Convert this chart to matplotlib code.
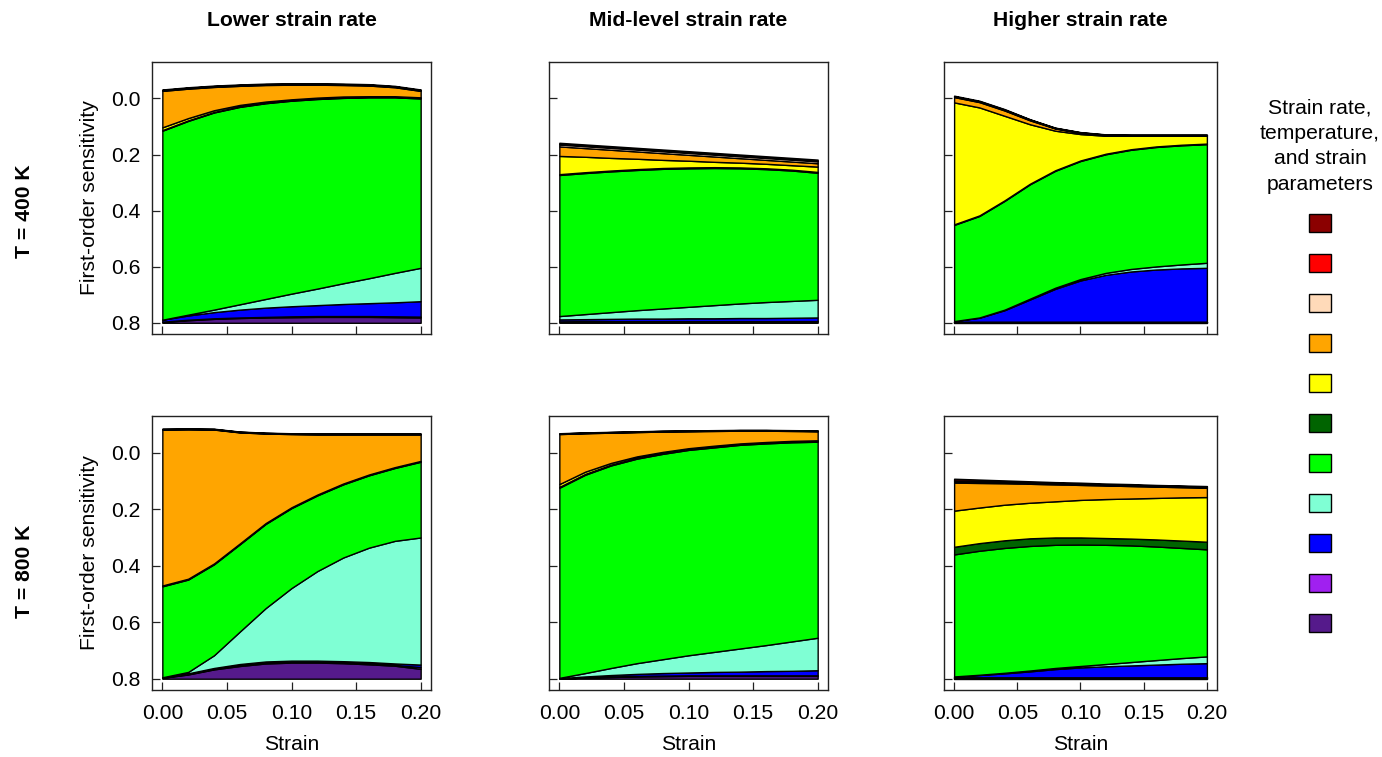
import numpy as np
import matplotlib
matplotlib.use('Agg')
import matplotlib.pyplot as plt
from matplotlib.patches import Patch

plt.rcParams['font.family'] = ['Liberation Sans', 'DejaVu Sans']

# ── data ─────────────────────────────────────────────────────────────────────
STRAIN = [0.00, 0.02, 0.04, 0.06, 0.08, 0.10, 0.12, 0.14, 0.16, 0.18, 0.20]

# legend order (top -> bottom); stacks are drawn in the reverse order
LEGEND_COLORS = ['#8B0000', '#FF0000', '#FFDAB9', '#FFA500', '#FFFF00',
                 '#006400', '#00FF00', '#7FFFD4', '#0000FF', '#A020F0', '#551A8B']
STACK_COLORS = LEGEND_COLORS[::-1]

COL_TITLES = ['Lower strain rate', 'Mid-level strain rate', 'Higher strain rate']
ROW_TITLES = ['T = 400 K', 'T = 800 K']
BASE = 0.8

# first-order sensitivity per parameter, bottom -> top of the stack
S400_LOW = [
    [0.003, 0.009, 0.014, 0.017, 0.019, 0.020, 0.021, 0.021, 0.021, 0.020, 0.019],
    [0.001, 0.002, 0.002, 0.002, 0.002, 0.003, 0.003, 0.003, 0.003, 0.003, 0.003],
    [0.007, 0.015, 0.022, 0.028, 0.033, 0.036, 0.039, 0.043, 0.046, 0.050, 0.055],
    [0.000, 0.003, 0.009, 0.019, 0.031, 0.045, 0.059, 0.074, 0.089, 0.105, 0.119],
    [0.674, 0.691, 0.703, 0.704, 0.698, 0.688, 0.676, 0.661, 0.645, 0.626, 0.604],
    [0.002, 0.002, 0.002, 0.002, 0.002, 0.002, 0.002, 0.002, 0.002, 0.002, 0.002],
    [0.010, 0.008, 0.006, 0.005, 0.004, 0.003, 0.003, 0.003, 0.002, 0.002, 0.002],
    [0.130, 0.105, 0.083, 0.068, 0.059, 0.052, 0.046, 0.041, 0.038, 0.032, 0.023],
    [0.002, 0.002, 0.002, 0.002, 0.002, 0.002, 0.002, 0.002, 0.002, 0.002, 0.002],
    [0.001, 0.001, 0.001, 0.001, 0.001, 0.001, 0.001, 0.001, 0.001, 0.001, 0.001],
    [0.002, 0.002, 0.002, 0.002, 0.002, 0.002, 0.002, 0.002, 0.002, 0.002, 0.002],
]
S400_MID = [
    [0.004, 0.005, 0.005, 0.005, 0.005, 0.005, 0.005, 0.005, 0.005, 0.005, 0.005],
    [0.001, 0.001, 0.001, 0.001, 0.001, 0.001, 0.001, 0.001, 0.001, 0.001, 0.001],
    [0.007, 0.007, 0.008, 0.009, 0.009, 0.010, 0.010, 0.011, 0.011, 0.012, 0.013],
    [0.012, 0.018, 0.024, 0.030, 0.036, 0.041, 0.047, 0.052, 0.057, 0.060, 0.063],
    [0.503, 0.503, 0.502, 0.500, 0.498, 0.494, 0.489, 0.482, 0.474, 0.465, 0.453],
    [0.003, 0.003, 0.003, 0.003, 0.003, 0.003, 0.003, 0.003, 0.003, 0.003, 0.003],
    [0.065, 0.055, 0.045, 0.037, 0.029, 0.024, 0.019, 0.017, 0.016, 0.016, 0.019],
    [0.034, 0.031, 0.029, 0.026, 0.024, 0.021, 0.019, 0.016, 0.014, 0.013, 0.012],
    [0.007, 0.007, 0.007, 0.007, 0.007, 0.007, 0.007, 0.007, 0.007, 0.007, 0.007],
    [0.002, 0.002, 0.002, 0.002, 0.002, 0.002, 0.002, 0.002, 0.002, 0.002, 0.002],
    [0.004, 0.004, 0.004, 0.004, 0.004, 0.004, 0.004, 0.004, 0.004, 0.004, 0.004],
]
S400_HIGH = [
    [0.003, 0.003, 0.003, 0.003, 0.003, 0.003, 0.003, 0.003, 0.003, 0.003, 0.003],
    [0.001, 0.001, 0.001, 0.001, 0.001, 0.001, 0.001, 0.001, 0.001, 0.001, 0.001],
    [0.002, 0.014, 0.041, 0.079, 0.117, 0.147, 0.167, 0.179, 0.186, 0.190, 0.192],
    [0.000, 0.001, 0.002, 0.003, 0.004, 0.005, 0.007, 0.009, 0.011, 0.014, 0.018],
    [0.343, 0.362, 0.388, 0.408, 0.417, 0.421, 0.423, 0.425, 0.426, 0.425, 0.423],
    [0.002, 0.002, 0.002, 0.002, 0.002, 0.002, 0.002, 0.002, 0.002, 0.002, 0.002],
    [0.435, 0.385, 0.301, 0.212, 0.141, 0.094, 0.064, 0.048, 0.038, 0.032, 0.028],
    [0.019, 0.019, 0.019, 0.014, 0.008, 0.004, 0.002, 0.001, 0.001, 0.001, 0.001],
    [0.002, 0.002, 0.002, 0.002, 0.001, 0.001, 0.001, 0.001, 0.001, 0.001, 0.001],
    [0.001, 0.001, 0.001, 0.001, 0.001, 0.001, 0.001, 0.001, 0.001, 0.001, 0.001],
    [0.002, 0.002, 0.002, 0.001, 0.001, 0.001, 0.001, 0.001, 0.001, 0.001, 0.001],
]
S800_LOW = [
    [0.003, 0.015, 0.033, 0.045, 0.054, 0.057, 0.057, 0.055, 0.051, 0.046, 0.035],
    [0.001, 0.002, 0.002, 0.003, 0.003, 0.003, 0.003, 0.003, 0.003, 0.003, 0.006],
    [0.001, 0.002, 0.003, 0.004, 0.004, 0.004, 0.004, 0.004, 0.005, 0.005, 0.009],
    [0.000, 0.005, 0.045, 0.115, 0.189, 0.257, 0.317, 0.367, 0.405, 0.434, 0.450],
    [0.322, 0.327, 0.322, 0.309, 0.298, 0.283, 0.268, 0.259, 0.256, 0.258, 0.268],
    [0.002, 0.002, 0.002, 0.002, 0.002, 0.002, 0.002, 0.002, 0.002, 0.002, 0.002],
    [0.001, 0.001, 0.001, 0.001, 0.001, 0.001, 0.001, 0.001, 0.001, 0.001, 0.001],
    [0.552, 0.529, 0.474, 0.393, 0.317, 0.259, 0.213, 0.174, 0.142, 0.116, 0.094],
    [0.001, 0.001, 0.001, 0.001, 0.001, 0.001, 0.001, 0.001, 0.001, 0.001, 0.001],
    [0.001, 0.001, 0.001, 0.001, 0.001, 0.001, 0.001, 0.001, 0.001, 0.001, 0.001],
    [0.001, 0.001, 0.001, 0.001, 0.001, 0.001, 0.001, 0.001, 0.001, 0.001, 0.001],
]
S800_MID = [
    [0.001, 0.004, 0.006, 0.008, 0.009, 0.010, 0.010, 0.010, 0.010, 0.010, 0.010],
    [0.000, 0.001, 0.002, 0.002, 0.002, 0.002, 0.002, 0.002, 0.002, 0.002, 0.002],
    [0.001, 0.003, 0.005, 0.007, 0.009, 0.010, 0.012, 0.013, 0.015, 0.016, 0.018],
    [0.001, 0.012, 0.025, 0.038, 0.049, 0.061, 0.071, 0.082, 0.092, 0.104, 0.115],
    [0.673, 0.702, 0.717, 0.724, 0.727, 0.727, 0.724, 0.721, 0.714, 0.705, 0.694],
    [0.003, 0.003, 0.003, 0.003, 0.003, 0.003, 0.003, 0.003, 0.003, 0.003, 0.003],
    [0.010, 0.008, 0.006, 0.005, 0.004, 0.003, 0.003, 0.002, 0.002, 0.002, 0.002],
    [0.177, 0.136, 0.107, 0.086, 0.072, 0.060, 0.052, 0.045, 0.040, 0.035, 0.032],
    [0.001, 0.001, 0.001, 0.001, 0.001, 0.001, 0.001, 0.001, 0.001, 0.001, 0.001],
    [0.001, 0.001, 0.001, 0.001, 0.001, 0.001, 0.001, 0.001, 0.001, 0.001, 0.001],
    [0.001, 0.001, 0.001, 0.001, 0.001, 0.001, 0.001, 0.001, 0.001, 0.001, 0.001],
]
S800_HIGH = [
    [0.004, 0.004, 0.004, 0.004, 0.004, 0.004, 0.004, 0.004, 0.004, 0.004, 0.004],
    [0.001, 0.001, 0.001, 0.001, 0.001, 0.001, 0.001, 0.001, 0.001, 0.001, 0.001],
    [0.003, 0.008, 0.014, 0.021, 0.029, 0.035, 0.039, 0.042, 0.045, 0.048, 0.050],
    [0.000, 0.001, 0.002, 0.003, 0.004, 0.005, 0.008, 0.012, 0.016, 0.020, 0.024],
    [0.432, 0.439, 0.442, 0.441, 0.436, 0.430, 0.422, 0.413, 0.402, 0.390, 0.379],
    [0.027, 0.027, 0.027, 0.027, 0.026, 0.025, 0.024, 0.024, 0.025, 0.026, 0.027],
    [0.128, 0.126, 0.126, 0.126, 0.128, 0.133, 0.138, 0.142, 0.147, 0.153, 0.158],
    [0.099, 0.087, 0.076, 0.067, 0.060, 0.053, 0.048, 0.044, 0.040, 0.036, 0.033],
    [0.005, 0.004, 0.004, 0.003, 0.003, 0.003, 0.002, 0.002, 0.002, 0.002, 0.002],
    [0.003, 0.003, 0.002, 0.002, 0.002, 0.002, 0.002, 0.002, 0.002, 0.002, 0.002],
    [0.006, 0.005, 0.004, 0.004, 0.003, 0.003, 0.003, 0.003, 0.002, 0.002, 0.002],
]

PANELS = [[S400_LOW, S400_MID, S400_HIGH],
          [S800_LOW, S800_MID, S800_HIGH]]

# ── figure / layout (pixel boxes of the original) ────────────────────────────
W, H = 1382, 757
COL_L = [152, 549, 944]
COL_R = [431, 828, 1217]
ROW_T = [62, 416]
ROW_B = [334, 690]
FS = 15.2

fig = plt.figure(figsize=(W / 100, H / 100), dpi=100)

x = np.array(STRAIN)
for r in range(2):
    for c in range(3):
        ax = fig.add_axes([COL_L[c] / W, 1 - ROW_B[r] / H,
                           (COL_R[c] - COL_L[c]) / W, (ROW_B[r] - ROW_T[r]) / H])
        layers = np.array(PANELS[r][c])
        tops = BASE - np.cumsum(layers, axis=0)
        lower = np.full_like(x, BASE)
        for i, col in enumerate(STACK_COLORS):
            ax.fill_between(x, lower, tops[i], facecolor=col,
                            edgecolor='black', linewidth=1.0, zorder=2)
            lower = tops[i]

        ax.set_xlim(-0.008, 0.208)
        ax.set_ylim(0.84, -0.13)
        ax.set_xticks([0.00, 0.05, 0.10, 0.15, 0.20])
        ax.set_yticks([0.0, 0.2, 0.4, 0.6, 0.8])
        ax.tick_params(direction='in', length=6, width=0.9, labelsize=FS,
                       color='#222222')
        ax.tick_params(axis='y', pad=8)
        ax.tick_params(axis='x', pad=10)
        for s in ax.spines.values():
            s.set_linewidth(1.0)
            s.set_color('#222222')

        if c == 0:
            ax.set_yticklabels(['0.0', '0.2', '0.4', '0.6', '0.8'])
            ax.set_ylabel('First-order sensitivity', fontsize=FS, labelpad=9)
        else:
            ax.set_yticklabels([])
        if r == 1:
            ax.set_xticklabels(['0.00', '0.05', '0.10', '0.15', '0.20'])
            ax.set_xlabel('Strain', fontsize=FS, labelpad=8.5)
        else:
            ax.set_xticklabels([])

# column / row titles
for c, t in enumerate(COL_TITLES):
    fig.text((COL_L[c] + COL_R[c]) / 2 / W, 1 - 20 / H, t,
             ha='center', va='center', fontsize=FS, fontweight='bold')
for r, (t, yc) in enumerate(zip(ROW_TITLES, [211, 571])):
    fig.text(24 / W, 1 - yc / H, t, rotation=90, ha='center', va='center',
             fontsize=FS, fontweight='bold')

# legend (colour keys only)
handles = [Patch(facecolor=col, edgecolor='black', linewidth=1.0)
           for col in LEGEND_COLORS]
leg = fig.legend(handles, [''] * len(handles),
                 title='Strain rate,\ntemperature,\nand strain\nparameters',
                 loc='upper center', bbox_to_anchor=(1320 / W, 1 - 98 / H),
                 frameon=False, fontsize=FS, title_fontsize=FS,
                 handlelength=1.04, handleheight=0.95, handletextpad=0.0,
                 labelspacing=0.93, borderpad=0, borderaxespad=0)
leg.get_title().set_multialignment('center')
leg.get_title().set_linespacing(1.45)

fig.savefig('out.png', dpi=100)
